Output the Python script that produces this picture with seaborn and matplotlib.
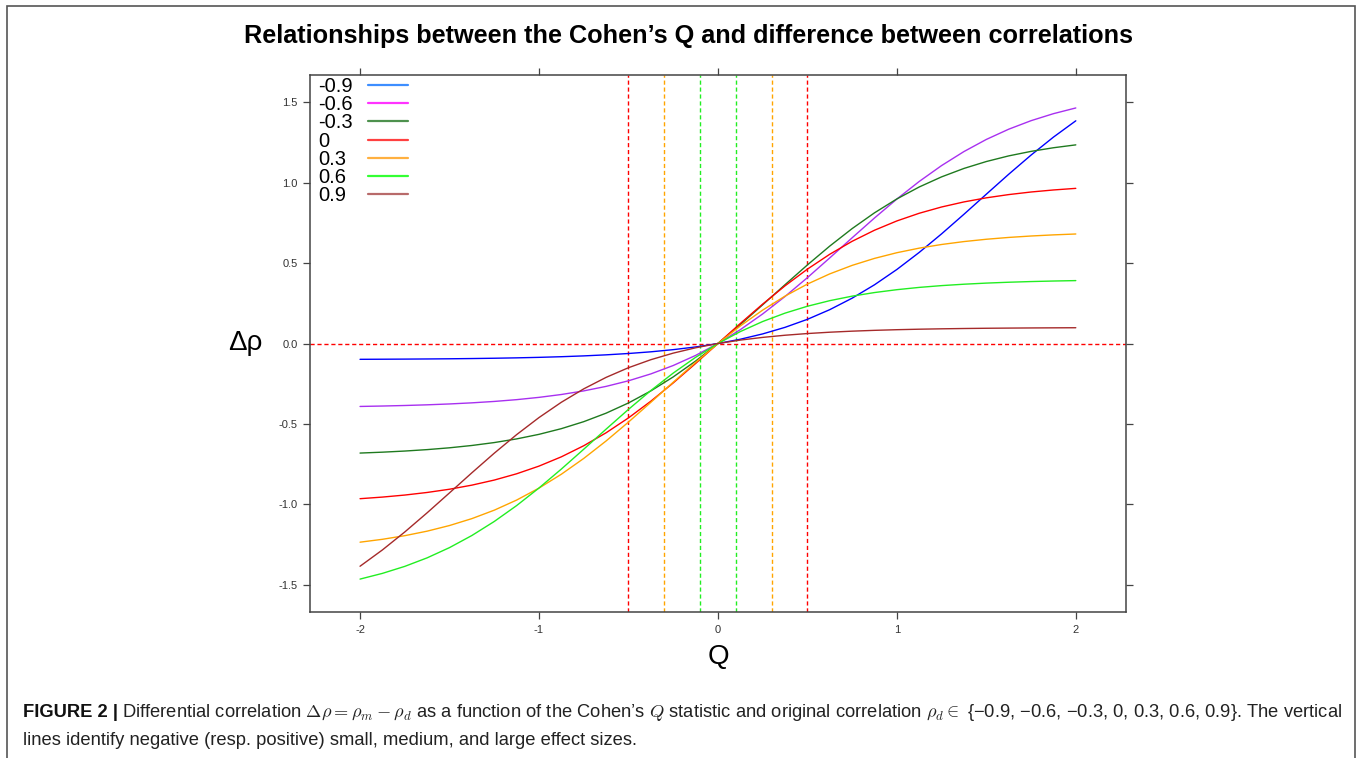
import numpy as np
import pandas as pd
import matplotlib
matplotlib.use('Agg')
import matplotlib.pyplot as plt
import seaborn as sns
from matplotlib.lines import Line2D
from matplotlib.patches import Rectangle

# Cohen's Q values along the x axis
q_vals = [-2.0, -1.875, -1.75, -1.625, -1.5, -1.375, -1.25, -1.125, -1.0,
          -0.875, -0.75, -0.625, -0.5, -0.375, -0.25, -0.125, 0.0,
          0.125, 0.25, 0.375, 0.5, 0.625, 0.75, 0.875, 1.0,
          1.125, 1.25, 1.375, 1.5, 1.625, 1.75, 1.875, 2.0]

# differential correlation (one list per original rho)
d_m09 = [-0.0981, -0.0975, -0.0968, -0.0959, -0.0948, -0.0933, -0.0914, -0.0890, -0.0859,
         -0.0819, -0.0768, -0.0703, -0.0620, -0.0515, -0.0381, -0.0213, 0.0,
         0.0266, 0.0597, 0.1005, 0.1503, 0.2104, 0.2817, 0.3649, 0.4600,
         0.5661, 0.6814, 0.8031, 0.9278, 1.0516, 1.1708, 1.2823, 1.3837]
d_m06 = [-0.3909, -0.3883, -0.3850, -0.3808, -0.3754, -0.3685, -0.3598, -0.3487, -0.3345,
         -0.3167, -0.2943, -0.2663, -0.2316, -0.1888, -0.1367, -0.0741, 0.0,
         0.0860, 0.1838, 0.2922, 0.4092, 0.5320, 0.6568, 0.7799, 0.8976,
         1.0069, 1.1056, 1.1927, 1.2679, 1.3315, 1.3845, 1.4280, 1.4635]
d_m03 = [-0.6805, -0.6750, -0.6680, -0.6591, -0.6478, -0.6334, -0.6153, -0.5926, -0.5642,
         -0.5289, -0.4855, -0.4327, -0.3693, -0.2945, -0.2076, -0.1091, 0.0,
         0.1175, 0.2406, 0.3654, 0.4882, 0.6054, 0.7140, 0.8120, 0.8983,
         0.9726, 1.0354, 1.0878, 1.1307, 1.1657, 1.1938, 1.2163, 1.2342]
d_00 = [-0.9640, -0.9540, -0.9414, -0.9253, -0.9052, -0.8798, -0.8483, -0.8093, -0.7616,
        -0.7039, -0.6351, -0.5546, -0.4621, -0.3584, -0.2449, -0.1244, 0.0,
        0.1244, 0.2449, 0.3584, 0.4621, 0.5546, 0.6351, 0.7039, 0.7616,
        0.8093, 0.8483, 0.8798, 0.9052, 0.9253, 0.9414, 0.9540, 0.9640]
d_p03 = [-1.2342, -1.2163, -1.1938, -1.1657, -1.1307, -1.0878, -1.0354, -0.9726, -0.8983,
         -0.8120, -0.7140, -0.6054, -0.4882, -0.3654, -0.2406, -0.1175, 0.0,
         0.1091, 0.2076, 0.2945, 0.3693, 0.4327, 0.4855, 0.5289, 0.5642,
         0.5926, 0.6153, 0.6334, 0.6478, 0.6591, 0.6680, 0.6750, 0.6805]
d_p06 = [-1.4635, -1.4280, -1.3845, -1.3315, -1.2679, -1.1927, -1.1056, -1.0069, -0.8976,
         -0.7799, -0.6568, -0.5320, -0.4092, -0.2922, -0.1838, -0.0860, 0.0,
         0.0741, 0.1367, 0.1888, 0.2316, 0.2663, 0.2943, 0.3167, 0.3345,
         0.3487, 0.3598, 0.3685, 0.3754, 0.3808, 0.3850, 0.3883, 0.3909]
d_p09 = [-1.3837, -1.2823, -1.1708, -1.0516, -0.9278, -0.8031, -0.6814, -0.5661, -0.4600,
         -0.3649, -0.2817, -0.2104, -0.1503, -0.1005, -0.0597, -0.0266, 0.0,
         0.0213, 0.0381, 0.0515, 0.0620, 0.0703, 0.0768, 0.0819, 0.0859,
         0.0890, 0.0914, 0.0933, 0.0948, 0.0959, 0.0968, 0.0975, 0.0981]

rho_labels = ['-0.9', '-0.6', '-0.3', '0', '0.3', '0.6', '0.9']
curve_colors = ['#0000FF', '#A830F0', '#1F7A1F', '#FF0000', '#FFA500', '#22EE22', '#A52A2A']
legend_colors = ['#3D8EFF', '#FF33FF', '#4E914E', '#FF4040', '#FFB040', '#33FF33', '#B86A6A']

# effect size cut-offs (vertical dashed lines)
cut_x = [-0.5, -0.3, -0.1, 0.1, 0.3, 0.5]
cut_colors = ['#FF0000', '#FFA500', '#22EE22', '#22EE22', '#FFA500', '#FF0000']

x_ticks = [-2, -1, 0, 1, 2]
x_ticklabels = ['-2', '-1', '0', '1', '2']
y_ticks = [-1.5, -1.0, -0.5, 0.0, 0.5, 1.0, 1.5]
y_ticklabels = ['-1.5', '-1.0', '-0.5', '0.0', '0.5', '1.0', '1.5']

series = [d_m09, d_m06, d_m03, d_00, d_p03, d_p06, d_p09]
df = pd.concat([pd.DataFrame({'Q': q_vals, 'drho': s, 'rho': lab})
                for s, lab in zip(series, rho_labels)], ignore_index=True)

sns.set_style('white')
plt.rcParams['font.family'] = ['Liberation Sans', 'DejaVu Sans']
plt.rcParams['mathtext.fontset'] = 'cm'
plt.rcParams['text.color'] = 'black'

fig = plt.figure(figsize=(13.57, 7.58), dpi=100)
ax = fig.add_axes([0.2284, 0.1926, 0.6013, 0.7084])

for xc, cc in zip(cut_x, cut_colors):
    ax.axvline(xc, color=cc, lw=1.0, ls=(0, (3, 2)), zorder=1)
ax.axhline(0, color='#FF0000', lw=1.0, ls=(0, (3, 2)), zorder=1)

sns.lineplot(data=df, x='Q', y='drho', hue='rho', hue_order=rho_labels,
             palette=dict(zip(rho_labels, curve_colors)), lw=1.0,
             errorbar=None, legend=False, ax=ax, zorder=2)

ax.set_xlim(-2.28, 2.28)
ax.set_ylim(-1.668, 1.668)
ax.set_xticks(x_ticks)
ax.set_xticklabels(x_ticklabels)
ax.set_yticks(y_ticks)
ax.set_yticklabels(y_ticklabels)
ax.tick_params(direction='out', length=5, width=0.9, color='#444444', pad=4,
               labelsize=8, labelcolor='#333333',
               top=True, right=True, bottom=True, left=True)
ax.set_xlabel('')
ax.set_ylabel('')
for sp in ax.spines.values():
    sp.set_color('#444444')
    sp.set_linewidth(1.1)

# legend: labels on the left (left aligned), coloured keys on the right
leg_fs = 14.5
txt_handles = [Line2D([], [], lw=0) for _ in rho_labels]
leg1 = ax.legend(txt_handles, rho_labels, loc='upper left', bbox_to_anchor=(0.0074, 1.0),
                 frameon=False, fontsize=leg_fs, handlelength=0, handletextpad=0,
                 labelspacing=-0.04, borderpad=0.1, borderaxespad=0)
ax.add_artist(leg1)
key_handles = [Line2D([], [], color=c, lw=1.6) for c in legend_colors]
ax.legend(key_handles, [' '] * len(rho_labels), loc='upper left', bbox_to_anchor=(0.0686, 1.0),
          frameon=False, fontsize=leg_fs, handlelength=1.99, handletextpad=0,
          labelspacing=-0.04, borderpad=0.1, borderaxespad=0)

fig.text(0.5074, 1 - 43 / 758, 'Relationships between the Cohen\u2019s Q and difference between correlations',
         ha='center', va='baseline', fontsize=18.2, fontweight='bold', color='black')
fig.text(245 / 1357, 1 - 343 / 758, '\u0394\u03c1', ha='center', va='center', fontsize=20, color='black')
fig.text(718 / 1357, 1 - 657 / 758, 'Q', ha='center', va='center', fontsize=20, color='black')

# outer frame of the figure panel
fig.patches.append(Rectangle((7 / 1357, -0.1), 1348 / 1357, 1.1 - 6 / 758,
                             transform=fig.transFigure, fill=False,
                             edgecolor='#555555', lw=1.2))

# caption
renderer = fig.canvas.get_renderer()
cap_fam = ['Liberation Sans', 'DejaVu Sans']
cap_fs = 13.2
t0 = fig.text(23 / 1357, 1 - 717 / 758, 'FIGURE 2 |', fontsize=cap_fs,
              fontweight='bold', family=cap_fam, va='baseline', color='#111111')
bb = t0.get_window_extent(renderer)
line1 = (r'Differential correlation $\Delta\rho = \rho_m - \rho_d$ as a function of the Cohen'
         + '\u2019s ' + r'$Q$ statistic and original correlation $\rho_d \in$ '
         + '{\u22120.9, \u22120.6, \u22120.3, 0, 0.3, 0.6, 0.9}. The vertical')
fig.text(bb.x1 / 1357 + 4 / 1357, 1 - 717 / 758, line1,
         fontsize=cap_fs, family=cap_fam, va='baseline', color='#222222')
fig.text(23 / 1357, 1 - 745 / 758,
         'lines identify negative (resp. positive) small, medium, and large effect sizes.',
         fontsize=cap_fs, family=cap_fam, va='baseline', color='#222222')

fig.savefig('out.png', dpi=100, facecolor='white')
